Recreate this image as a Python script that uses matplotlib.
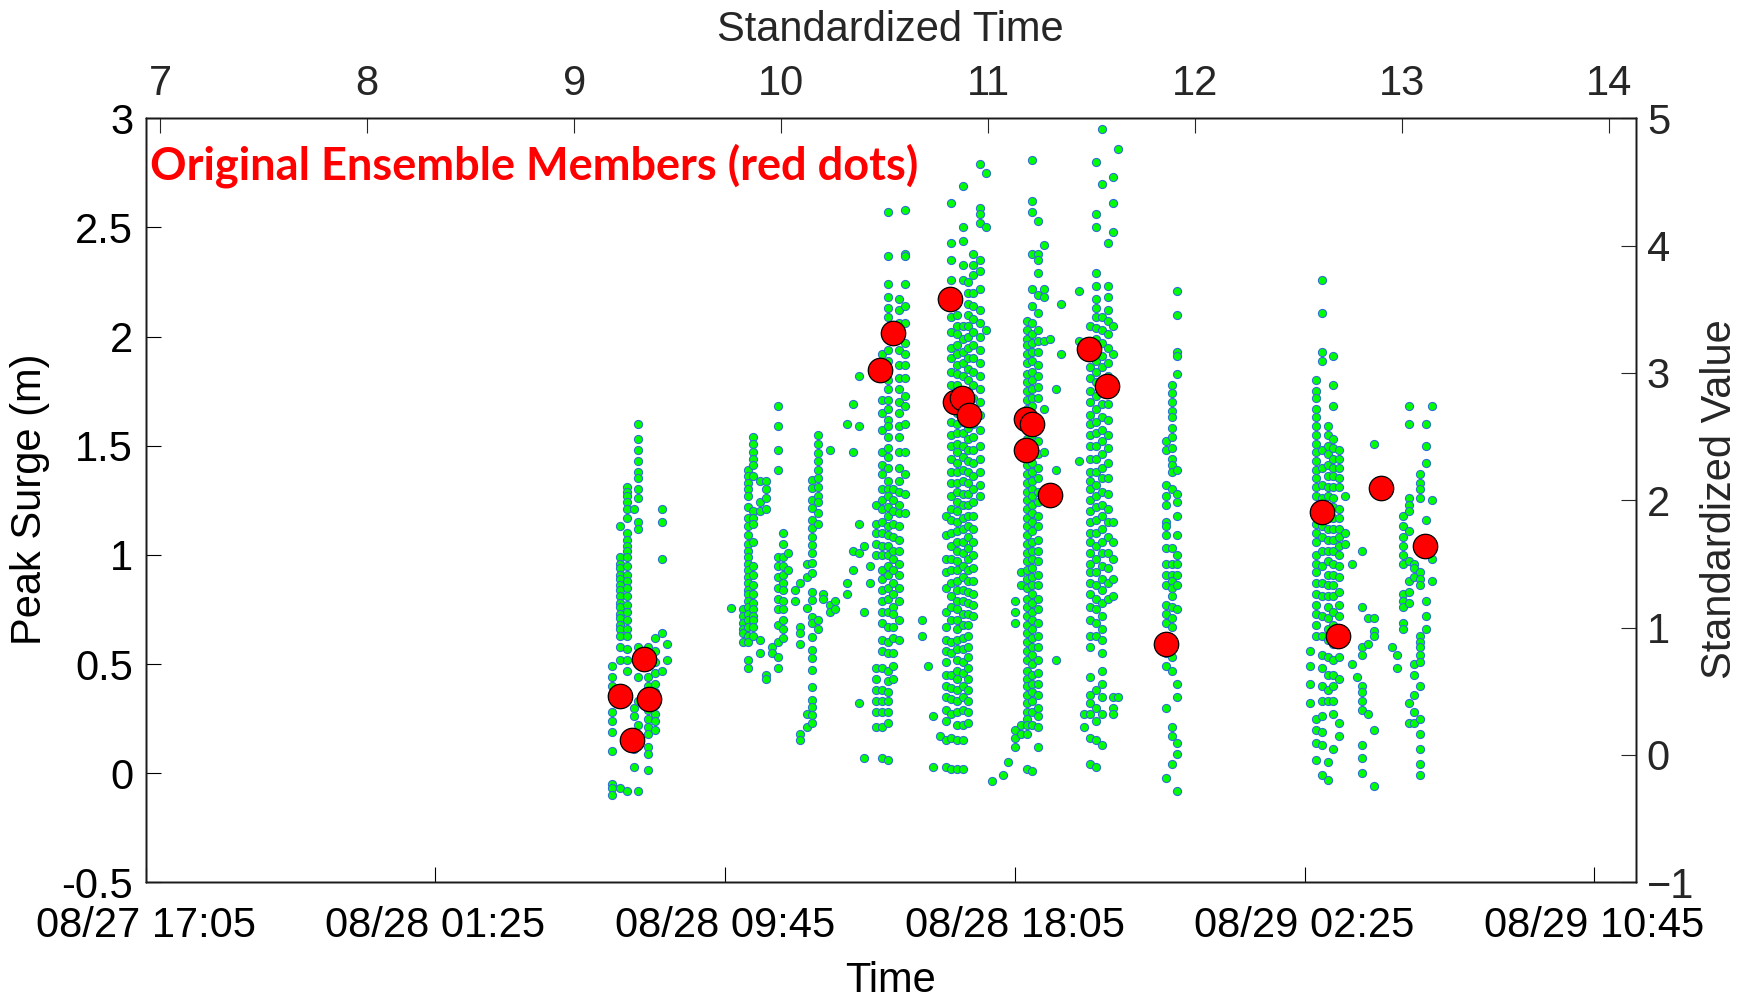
import datetime as dtm
import matplotlib
matplotlib.use("Agg")
import matplotlib.pyplot as plt
import matplotlib.dates as mdates

# ---------------- data (x in standardized time, y = peak surge in m) -------------
grpA_x = [9.182, 9.221, 9.255, 9.290, 9.308, 9.356, 9.390, 9.424, 9.450]
grpA_y = [
    [0.49, 0.44, 0.40, 0.36, 0.28, 0.24, 0.19, 0.10, -0.05, -0.07, -0.10],
    [1.13, 0.99, 0.96, 0.94, 0.91, 0.89, 0.86, 0.84, 0.81, 0.78, 0.76, 0.73, 0.71, 0.68, 0.66, 0.63, 0.58, 0.52, -0.07],
    [1.31, 1.29, 1.27, 1.24, 1.21, 1.17, 1.10, 1.07, 1.04, 1.02, 0.99, 0.95, 0.91, 0.88, 0.85, 0.81, 0.77, 0.74, 0.70, 0.66, 0.63, 0.57, 0.52, 0.47, -0.08],
    [1.21, 0.30, 0.26, 0.11, 0.03],
    [1.60, 1.53, 1.48, 1.43, 1.38, 1.35, 1.30, 1.26, 1.15, 1.12, 0.58, 0.44, 0.33, 0.22, 0.14, -0.08],
    [0.58, 0.55, 0.49, 0.44, 0.40, 0.33, 0.29, 0.25, 0.21, 0.18, 0.12, 0.09, 0.015],
    [0.62, 0.56, 0.51, 0.46, 0.41, 0.37, 0.31, 0.27, 0.24, 0.20],
    [1.21, 1.15, 0.98, 0.64, 0.47],
    [0.59, 0.52],
]

grpB_x = [9.757, 9.814, 9.841, 9.865, 9.897, 9.926, 9.954, 9.983, 10.007, 10.032, 10.066, 10.090,
          10.123, 10.147, 10.176, 10.202, 10.235, 10.259, 10.316, 10.345, 10.374, 10.400, 10.428]
grpB_y = [
    [0.755],
    [0.75, 0.72, 0.69, 0.66, 0.64, 0.60],
    [1.39, 1.36, 1.33, 1.30, 1.27, 1.22, 1.17, 1.13, 1.09, 1.05, 1.02, 0.99, 0.96, 0.93, 0.90, 0.87, 0.84, 0.82, 0.79, 0.76, 0.73, 0.70, 0.67, 0.63, 0.60, 0.52, 0.48],
    [1.54, 1.51, 1.47, 1.44, 1.41, 1.36, 1.20, 1.17, 1.14, 1.06, 0.95, 0.91, 0.86, 0.82, 0.78, 0.75, 0.72, 0.70, 0.67, 0.63],
    [1.34, 1.24, 1.20, 0.61, 0.55],
    [1.34, 1.30, 1.26, 1.21, 0.45, 0.43],
    [0.58, 0.55],
    [1.68, 1.59, 1.48, 1.39, 0.99, 0.95, 0.90, 0.85, 0.80, 0.75, 0.68, 0.60, 0.53, 0.48],
    [1.10, 1.05, 0.99, 0.95, 0.91, 0.87, 0.84, 0.79, 0.75, 0.70, 0.66, 0.62],
    [1.01, 0.93],
    [0.84, 0.79],
    [0.87, 0.67, 0.64, 0.59, 0.18, 0.15],
    [0.96, 0.90, 0.755, 0.27, 0.21],
    [1.343, 1.305, 1.251, 1.213, 1.160, 1.122, 1.084, 1.045, 1.007, 0.961, 0.916, 0.831, 0.793, 0.717, 0.686, 0.625, 0.564, 0.526, 0.473, 0.396, 0.335, 0.305, 0.267, 0.228],
    [1.55, 1.51, 1.465, 1.43, 1.39, 1.35, 1.31, 1.27, 1.24, 1.19, 1.14, 0.70, 0.66],
    [0.82, 0.80],
    [1.48, 0.77, 0.74],
    [0.79, 0.75],
    [1.60, 0.87, 0.82],
    [1.69, 1.47, 1.02, 0.93],
    [1.82, 1.59, 1.14, 1.01, 0.32],
    [1.04, 0.74, 0.07],
    [0.95, 0.87],
]

grpC_x = [10.456, 10.485, 10.514, 10.540, 10.569, 10.598]
grpC_y = [
    [1.23, 1.14, 1.10, 1.05, 1.00, 0.48, 0.43, 0.38, 0.33, 0.28, 0.21],
    [1.92, 1.81, 1.71, 1.65, 1.57, 1.47, 1.41, 1.37, 1.30, 1.25, 1.21, 1.15, 1.10, 1.04, 1.00, 0.93, 0.89, 0.84, 0.79, 0.74, 0.69, 0.61, 0.56, 0.48, 0.38, 0.33, 0.28, 0.21, 0.07],
    [2.57, 2.37, 2.24, 2.18, 2.13, 2.09, 2.00, 1.94, 1.89, 1.85, 1.80, 1.76, 1.71, 1.67, 1.62, 1.59, 1.54, 1.49, 1.45, 1.40, 1.34, 1.30, 1.27, 1.22, 1.18, 1.13, 1.09, 1.04, 1.00, 0.95, 0.91, 0.85, 0.80, 0.74, 0.67, 0.60, 0.55, 0.47, 0.42, 0.37, 0.33, 0.28, 0.23, 0.06],
    [1.30, 1.25, 1.20, 1.14, 1.08, 1.02, 0.98, 0.93, 0.87, 0.82, 0.76, 0.73, 0.67, 0.62, 0.55, 0.49, 0.43],
    [2.17, 2.12, 2.06, 1.99, 1.94, 1.87, 1.81, 1.76, 1.70, 1.65, 1.59, 1.54, 1.47, 1.40, 1.34, 1.29, 1.23, 1.19, 1.13, 1.07, 1.02, 0.96, 0.91, 0.85, 0.79, 0.70, 0.61],
    [2.58, 2.38, 2.37, 2.24, 2.14, 2.06, 1.97, 1.92, 1.87, 1.81, 1.73, 1.68, 1.60, 1.47, 1.37, 1.28, 1.19],
]

grpD_x = [10.680, 10.709, 10.733, 10.767, 10.796, 10.820, 10.847, 10.876, 10.903, 10.928, 10.960, 10.987]
grpD_y = [
    [0.70, 0.63],
    [0.49],
    [0.26, 0.03],
    [0.17],
    [1.18, 1.09, 0.98, 0.92, 0.85, 0.74, 0.67, 0.61, 0.56, 0.51, 0.45, 0.40, 0.35, 0.29, 0.24, 0.15, 0.03],
    [2.61, 2.43, 2.35, 2.26, 2.09, 2.02, 1.95, 1.90, 1.84, 1.78, 1.73, 1.61, 1.55, 1.50, 1.44, 1.38, 1.33, 1.27, 1.21, 1.16, 1.10, 1.04, 0.98, 0.93, 0.87, 0.81, 0.76, 0.70, 0.60, 0.55, 0.45, 0.39, 0.34, 0.27, 0.16, 0.02],
    [2.10, 2.05, 2.01, 1.96, 1.92, 1.87, 1.83, 1.78, 1.74, 1.65, 1.60, 1.56, 1.51, 1.47, 1.42, 1.38, 1.33, 1.29, 1.24, 1.20, 1.15, 1.11, 1.06, 1.02, 0.97, 0.93, 0.88, 0.84, 0.79, 0.75, 0.70, 0.66, 0.61, 0.57, 0.52, 0.47, 0.43, 0.38, 0.33, 0.28, 0.22, 0.15, 0.02],
    [2.69, 2.50, 2.44, 2.33, 2.26, 2.05, 1.99, 1.93, 1.88, 1.82, 1.61, 1.56, 1.50, 1.45, 1.39, 1.34, 1.28, 1.23, 1.17, 1.12, 1.06, 1.01, 0.95, 0.90, 0.84, 0.79, 0.73, 0.68, 0.62, 0.57, 0.51, 0.46, 0.40, 0.35, 0.29, 0.22, 0.15, 0.02],
    [2.25, 2.20, 2.15, 2.10, 2.05, 2.00, 1.95, 1.90, 1.85, 1.80, 1.75, 1.58, 1.53, 1.48, 1.43, 1.38, 1.33, 1.28, 1.23, 1.18, 1.13, 1.08, 1.03, 0.98, 0.93, 0.88, 0.83, 0.78, 0.73, 0.68, 0.63, 0.58, 0.53, 0.48, 0.43, 0.38, 0.33, 0.28, 0.23],
    [2.38, 2.33, 2.28, 2.20, 2.14, 2.08, 2.02, 1.96, 1.90, 1.84, 1.78, 1.72, 1.66, 1.60, 1.54, 1.48, 1.42, 1.36, 1.30, 1.24, 1.18, 1.12, 1.06, 1.00, 0.94, 0.88, 0.82, 0.77, 0.72],
    [2.79, 2.59, 2.56, 2.52, 2.35, 2.30, 2.22, 2.12, 2.06, 2.00, 1.94, 1.88, 1.82, 1.76, 1.70, 1.64, 1.57, 1.50, 1.44, 1.38, 1.32, 1.27],
    [2.75, 2.50, 2.03],
]

grpE_x = [11.016, 11.071, 11.095, 11.129, 11.158, 11.185, 11.210, 11.239, 11.269, 11.298, 11.327, 11.351]
grpE_y = [
    [-0.035],
    [-0.01],
    [0.05],
    [0.79, 0.74, 0.69, 0.20, 0.16, 0.12],
    [0.92, 0.86, 0.22, 0.18],
    [2.07, 2.03, 1.99, 1.96, 1.92, 1.88, 1.83, 1.79, 1.75, 1.71, 1.67, 1.57, 1.53, 1.50, 1.45, 1.41, 1.37, 1.33, 1.29, 1.25, 1.21, 1.17, 1.13, 1.09, 1.05, 1.01, 0.97, 0.93, 0.89, 0.85, 0.80, 0.76, 0.72, 0.68, 0.64, 0.60, 0.56, 0.52, 0.47, 0.43, 0.40, 0.36, 0.32, 0.28, 0.25, 0.22, 0.18, 0.02],
    [2.81, 2.62, 2.57, 2.38, 2.22, 2.14, 2.06, 2.01, 1.97, 1.93, 1.89, 1.84, 1.80, 1.76, 1.72, 1.68, 1.55, 1.51, 1.46, 1.42, 1.38, 1.34, 1.30, 1.27, 1.23, 1.19, 1.15, 1.11, 1.06, 1.02, 0.98, 0.94, 0.90, 0.86, 0.82, 0.78, 0.74, 0.70, 0.66, 0.62, 0.58, 0.54, 0.50, 0.45, 0.41, 0.37, 0.33, 0.28, 0.22, 0.01],
    [2.53, 2.38, 2.35, 2.29, 2.19, 2.11, 2.03, 1.98, 1.93, 1.87, 1.82, 1.77, 1.72, 1.58, 1.52, 1.46, 1.40, 1.35, 1.29, 1.24, 1.18, 1.13, 1.07, 1.02, 0.97, 0.91, 0.86, 0.80, 0.75, 0.69, 0.63, 0.58, 0.52, 0.46, 0.41, 0.36, 0.30, 0.26, 0.21, 0.12],
    [2.42, 2.22, 2.18, 1.98, 1.67, 1.47],
    [1.99],
    [1.76, 1.39, 0.52],
    [2.15, 1.92],
]

grpF_x = [11.438, 11.462, 11.491, 11.520, 11.548, 11.577, 11.602, 11.627]
grpF_y = [
    [2.21, 1.98, 1.43],
    [0.27, 0.21],
    [2.05, 1.97, 1.91, 1.86, 1.81, 1.75, 1.70, 1.64, 1.60, 1.55, 1.50, 1.44, 1.38, 1.34, 1.30, 1.25, 1.20, 1.15, 1.10, 1.06, 1.01, 0.96, 0.92, 0.87, 0.82, 0.76, 0.70, 0.63, 0.58, 0.44, 0.36, 0.32, 0.27, 0.16, 0.04],
    [2.80, 2.56, 2.50, 2.29, 2.23, 2.17, 2.13, 2.09, 2.04, 1.99, 1.94, 1.89, 1.84, 1.79, 1.73, 1.67, 1.61, 1.56, 1.50, 1.44, 1.38, 1.32, 1.27, 1.22, 1.16, 1.10, 1.04, 0.98, 0.92, 0.86, 0.80, 0.75, 0.69, 0.63, 0.38, 0.30, 0.24, 0.15, 0.03],
    [2.95, 2.70, 2.09, 2.03, 1.97, 1.91, 1.86, 1.80, 1.74, 1.69, 1.63, 1.57, 1.52, 1.46, 1.40, 1.35, 1.29, 1.23, 1.18, 1.12, 1.06, 1.01, 0.95, 0.89, 0.84, 0.78, 0.72, 0.66, 0.61, 0.55, 0.47, 0.41, 0.35, 0.27, 0.13],
    [2.43, 2.23, 2.18, 2.12, 2.07, 2.01, 1.95, 1.88, 1.82, 1.75, 1.69, 1.62, 1.55, 1.49, 1.42, 1.35, 1.28, 1.21, 1.15, 1.08, 1.01, 0.94, 0.87, 0.80],
    [2.73, 2.61, 2.48, 2.05, 1.92, 1.15, 1.06, 0.98, 0.89, 0.81, 0.35, 0.30, 0.27],
    [2.86, 0.35],
]

grpG_x = [11.858, 11.887, 11.912]
grpG_y = [
    [1.52, 1.48, 1.32, 1.27, 1.23, 1.15, 1.13, 1.09, 1.03, 0.96, 0.91, 0.86, 0.77, 0.73, 0.69, 0.55, 0.49, 0.30, -0.02],
    [1.78, 1.74, 1.70, 1.66, 1.63, 1.58, 1.54, 1.49, 1.44, 1.41, 1.38, 1.30, 1.03, 0.96, 0.91, 0.88, 0.85, 0.81, 0.76, 0.71, 0.67, 0.53, 0.47, 0.21, 0.17, 0.04],
    [2.21, 2.10, 1.93, 1.91, 1.83, 1.39, 1.28, 1.24, 1.18, 1.09, 1.00, 0.96, 0.91, 0.86, 0.75, 0.41, 0.35, 0.14, 0.09, -0.08],
]

grpH_x = [12.554, 12.583, 12.612, 12.640, 12.665, 12.694, 12.723, 12.757, 12.781, 12.805, 12.834, 12.863, 12.950, 12.974]
grpH_y = [
    [0.56, 0.49, 0.41, 0.32],
    [1.80, 1.75, 1.72, 1.67, 1.63, 1.59, 1.55, 1.51, 1.47, 1.43, 1.39, 1.35, 1.31, 1.27, 1.22, 1.18, 1.14, 1.10, 1.06, 1.00, 0.96, 0.92, 0.87, 0.82, 0.77, 0.73, 0.68, 0.63, 0.25, 0.20, 0.14, 0.06],
    [2.26, 2.11, 1.93, 1.89, 1.48, 1.40, 1.32, 1.26, 1.20, 1.13, 1.08, 1.02, 0.95, 0.87, 0.81, 0.72, 0.63, 0.54, 0.48, 0.40, 0.33, 0.26, 0.19, 0.13, -0.01],
    [1.59, 1.55, 1.50, 1.46, 1.41, 1.36, 1.31, 1.27, 1.22, 1.17, 1.12, 1.07, 1.02, 0.97, 0.91, 0.86, 0.81, 0.76, 0.71, 0.66, 0.61, 0.53, 0.45, 0.38, 0.33, 0.05, -0.03],
    [1.91, 1.78, 1.68, 1.53, 1.49, 1.44, 1.40, 1.36, 1.31, 1.26, 1.22, 1.17, 1.12, 1.07, 1.02, 0.96, 0.91, 0.86, 0.81, 0.74, 0.68, 0.59, 0.52, 0.45, 0.40, 0.33, 0.27, 0.11],
    [1.48, 1.44, 1.40, 1.35, 1.31, 1.21, 1.17, 1.12, 1.08, 1.04, 1.00, 0.95, 0.90, 0.83, 0.77, 0.72, 0.53, 0.43, 0.23, 0.17],
    [1.27, 1.10, 1.05],
    [0.96, 0.50],
    [0.44],
    [1.02, 0.76, 0.58, 0.54, 0.40, 0.37, 0.33, 0.29, 0.13, 0.07, 0.00],
    [0.71, 0.59, 0.27],
    [1.51, 0.71, 0.65, 0.63, 0.20, -0.06],
    [0.58],
    [0.54, 0.48],
]

grpI_x = [13.003, 13.032, 13.057, 13.086, 13.114, 13.143]
grpI_y = [
    [1.18, 1.13, 1.08, 1.04, 1.00, 0.96, 0.82, 0.79, 0.76, 0.69, 0.66],
    [1.68, 1.60, 1.26, 1.23, 1.20, 1.11, 0.97, 0.88, 0.83, 0.78, 0.32, 0.23],
    [0.96, 0.94, 0.90, 0.50, 0.45, 0.36, 0.28, 0.23],
    [1.37, 1.33, 1.30, 1.26, 0.92, 0.89, 0.86, 0.63, 0.60, 0.58, 0.54, 0.51, 0.40, 0.25, 0.18, 0.11, 0.04, -0.01],
    [1.60, 1.50, 1.42, 1.16, 0.79, 0.72, 0.66],
    [1.68, 1.25, 0.98, 0.88],
]

red_x = [9.223, 9.336, 9.277, 9.363, 10.479, 10.539, 10.814, 10.839, 10.873, 10.905,
         11.182, 11.209, 11.182, 11.298, 11.487, 11.574, 11.858, 12.612, 12.895, 12.689, 13.109]
red_y = [0.352, 0.525, 0.152, 0.342, 1.845, 2.018, 2.172, 1.700, 1.720, 1.640,
         1.622, 1.600, 1.480, 1.272, 1.942, 1.773, 0.592, 1.195, 1.308, 0.628, 1.042]

std_time_ticks = [7, 8, 9, 10, 11, 12, 13, 14]
std_value_ticks = [-1, 0, 1, 2, 3, 4, 5]
surge_ticks = [-0.5, 0, 0.5, 1, 1.5, 2, 2.5, 3]
title_text = "Original Ensemble Members (red dots)"

# ---------------- figure -------------------------------------------------------
plt.rcParams['font.family'] = ['Liberation Sans', 'DejaVu Sans']

fig = plt.figure(figsize=(17.5, 9.99), dpi=100)
ax = fig.add_axes([145.7 / 1750, 1 - 882.3 / 999, (1635.7 - 145.7) / 1750, (882.3 - 118.3) / 999])

t0 = dtm.datetime(2005, 8, 27, 17, 5)
t_end = dtm.datetime(2005, 8, 29, 11, 56, 30)
ax.set_xlim(t0, t_end)
time_ticks = [t0 + dtm.timedelta(minutes=500 * k) for k in range(6)]
ax.set_xticks(time_ticks)
ax.xaxis.set_major_formatter(mdates.DateFormatter('%m/%d %H:%M'))
ax.set_ylim(-0.5, 3)
ax.set_yticks(surge_ticks)
ax.set_yticklabels(['-0.5', '0', '0.5', '1', '1.5', '2', '2.5', '3'])
ax.tick_params(axis='both', direction='in', length=10.5, width=0.8, labelsize=30,
               colors='black')
ax.tick_params(axis='x', pad=17)
ax.tick_params(axis='y', pad=9)

ax_top = ax.twiny()
ax_top.set_xlim(6.9295, 14.1275)
ax_top.set_xticks(std_time_ticks)
ax_top.tick_params(axis='x', direction='in', length=10.5, width=0.8, labelsize=30,
                   colors='#262626', pad=10)

ax_r = ax.twinx()
ax_r.set_ylim(-1, 5)
ax_r.set_yticks(std_value_ticks)
ax_r.tick_params(axis='y', direction='in', length=10.5, width=0.8, labelsize=30,
                 colors='#262626', pad=8)

for a in (ax, ax_top, ax_r):
    for sp in a.spines.values():
        sp.set_linewidth(1.0)
        sp.set_color('#1a1a1a')

# green dots
groups = [(grpA_x, grpA_y), (grpB_x, grpB_y), (grpC_x, grpC_y), (grpD_x, grpD_y),
          (grpE_x, grpE_y), (grpF_x, grpF_y), (grpG_x, grpG_y), (grpH_x, grpH_y),
          (grpI_x, grpI_y)]
gx, gy = [], []
for cols_x, cols_y in groups:
    for xv, ys in zip(cols_x, cols_y):
        gx.extend([xv] * len(ys))
        gy.extend(ys)

ax_top.scatter(gx, gy, s=34, c='#00ff00', edgecolors='#2f6fd6', linewidths=0.8, zorder=2)
ax_top.scatter(red_x, red_y, s=310, c='#ff0000', edgecolors='black', linewidths=0.9, zorder=3)
ax_top.set_ylim(-0.5, 3)

ax.text(150 / 1750, 1 - 166 / 999, title_text, transform=fig.transFigure,
        fontsize=32.5, fontweight='bold', color='#ff0000', family='Lato',
        ha='left', va='center')

fig.text(30 / 1750, 0.5, 'Peak Surge (m)', rotation=90, fontsize=30,
         ha='center', va='center', color='black')
fig.text(1720 / 1750, 0.5, 'Standardized Value', rotation=90, fontsize=30,
         ha='center', va='center', color='#262626')
fig.text(0.5 * (145.7 + 1635.7) / 1750, 1 - 992 / 999, 'Time', fontsize=30,
         ha='center', va='baseline', color='black')
fig.text(0.5 * (145.7 + 1635.7) / 1750, 1 - 41 / 999, 'Standardized Time', fontsize=30,
         ha='center', va='baseline', color='#262626')

fig.savefig('out.png', dpi=100)
